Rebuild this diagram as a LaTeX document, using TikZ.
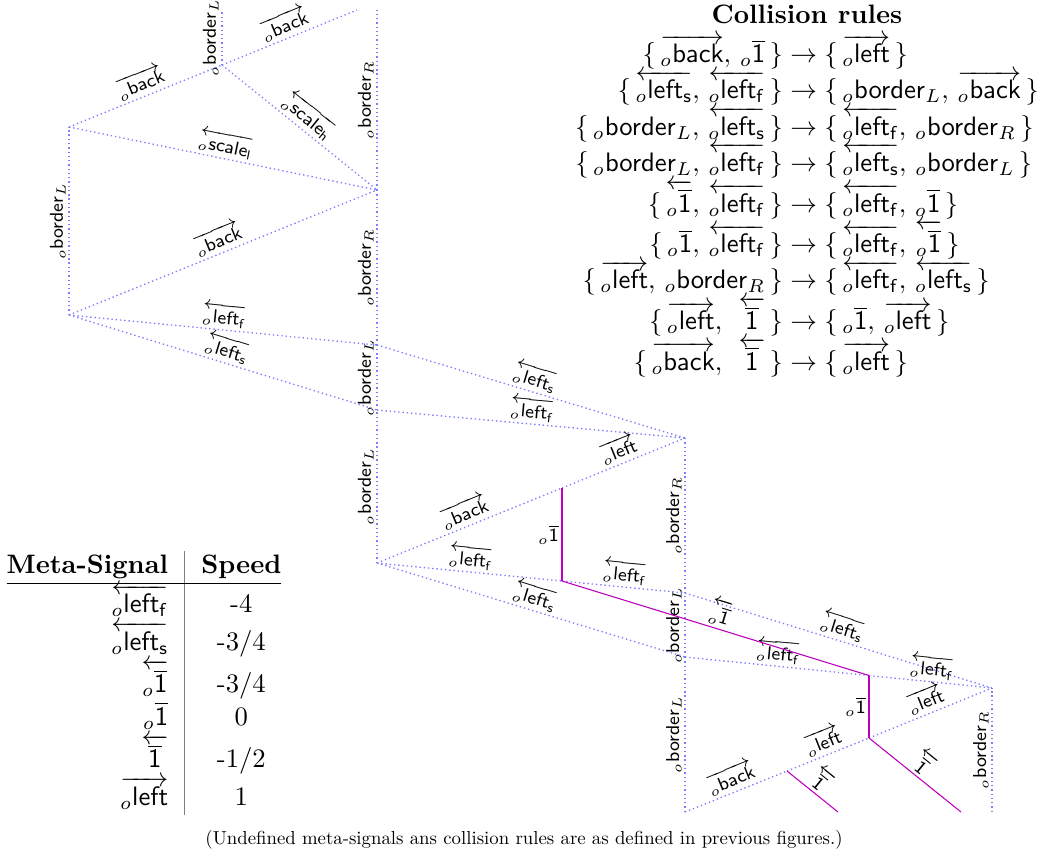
\documentclass[tikz,border=0pt]{standalone}
\usepackage{amsmath,amssymb}
\usepackage{array}
\usepackage{xcolor}
\usepackage{tikz}
\usetikzlibrary{positioning}
\definecolor{sigcolor}{RGB}{125,125,255}
\definecolor{onecolor}{RGB}{190,0,190}
\definecolor{rulecolor}{RGB}{128,128,128}

\newcommand{\so}[1]{{}_{o}\mathsf{#1}}
\newcommand{\Rs}[1]{\overrightarrow{\so{#1}}}
\newcommand{\Ls}[1]{\overleftarrow{\so{#1}}}
\newcommand{\bd}[1]{\so{border}_{#1}}
\newcommand{\one}{\overline{\mathsf{1}}}
\newcommand{\oone}{{}_{o}\one}
\newcommand{\Loone}{\overleftarrow{\oone}}
\newcommand{\Lone}{\overleftarrow{\one}}

\begin{document}
\begin{tikzpicture}[
  x=0.375pt, y=-0.375pt,
  meta/.style = {draw=sigcolor, line width=0.5pt, dash pattern={on 0.5pt off 1.1pt}},
  onesig/.style = {draw=onecolor, line width=0.4pt},
  lbl/.style  = {font=\fontsize{6.9}{8}\selectfont, sloped, above, midway, inner sep=1pt},
  vlbl/.style = {font=\fontsize{6.9}{8}\selectfont, left, midway, inner sep=1pt}
]
\useasboundingbox (0,0) rectangle (1046,858);

% collision points
\coordinate (tl-up)  at (69,127);
\coordinate (tl-low) at (69,315);
\coordinate (t-mid)  at (222,65);
\coordinate (t-back) at (357,10);
\coordinate (t-bord) at (222,10);
\coordinate (t-R)    at (377,10);
\coordinate (r-back) at (377,190);
\coordinate (r-bsw)  at (377,345);
\coordinate (r-bl)   at (377,410);
\coordinate (m-left) at (377,563);
\coordinate (m-stop) at (562,488);
\coordinate (m-one)  at (562,581);
\coordinate (m-R)    at (685,438);
\coordinate (m-bsw)  at (685,593);
\coordinate (m-bl)   at (685,657);
\coordinate (b-one)  at (869,675.5);
\coordinate (b-left) at (869,738);
\coordinate (b-back) at (787,771);
\coordinate (b-R)    at (992,688);
\coordinate (b-bord) at (685,812);
\coordinate (b-Rend) at (992,812);
\coordinate (b-one1) at (838,812);
\coordinate (b-one2) at (961,812);

% borders
\foreach \s/\e/\txt in {tl-low/tl-up/\bd{L}, t-mid/t-bord/\bd{L},
                        r-back/t-R/\bd{R}, r-bsw/r-back/\bd{R},
                        r-bl/r-bsw/\bd{L}, m-left/r-bl/\bd{L},
                        m-bsw/m-R/\bd{R}, m-bl/m-bsw/\bd{L},
                        b-bord/m-bl/\bd{L}, b-Rend/b-R/\bd{R}}{
  \draw[meta] (\s) -- node[lbl] {$\txt$} (\e);
}

% moving meta-signals
\foreach \s/\e/\txt in {tl-up/t-mid/\Rs{back}, t-mid/t-back/\Rs{back},
                        t-mid/r-back/\Ls{scale_h}, tl-up/r-back/\Ls{scale_l},
                        tl-low/r-back/\Rs{back},
                        tl-low/r-bsw/\Ls{left_f}, tl-low/r-bl/\Ls{left_s},
                        r-bsw/m-R/\Ls{left_s}, r-bl/m-R/\Ls{left_f},
                        m-left/m-stop/\Rs{back}, m-stop/m-R/\Rs{left},
                        m-left/m-one/\Ls{left_f}, m-one/m-bsw/\Ls{left_f},
                        m-left/m-bl/\Ls{left_s},
                        m-bsw/b-R/\Ls{left_s},
                        m-bl/b-one/\Ls{left_f}, b-one/b-R/\Ls{left_f},
                        b-bord/b-back/\Rs{back}, b-back/b-left/\Rs{left},
                        b-left/b-R/\Rs{left}}{
  \draw[meta] (\s) -- node[lbl] {$\txt$} (\e);
}

% the 1 signals
\draw[onesig] (m-one) -- node[vlbl] {$\oone$} (m-stop);
\draw[onesig] (b-left) -- node[vlbl] {$\oone$} (b-one);
\draw[onesig] (m-one) -- node[lbl] {$\Loone$} (b-one);
\draw[onesig] (b-back) -- node[lbl] {$\Lone$} (b-one1);
\draw[onesig] (b-left) -- node[lbl] {$\Lone$} (b-one2);

% collision rules
\node (rules-title) at (807,14) {\textbf{Collision rules}};
\node (rules) at (807,207) {$\begin{array}{r@{\;\rightarrow\;}l}
  \{\,\Rs{back},\,\oone\,\} & \{\,\Rs{left}\,\}\\[-0.6pt]
  \{\,\Ls{left_s},\,\Ls{left_f}\,\} & \{\,\bd{L},\,\Rs{back}\,\}\\[-0.6pt]
  \{\,\bd{L},\,\Ls{left_s}\,\} & \{\,\Ls{left_f},\,\bd{R}\,\}\\[-0.6pt]
  \{\,\bd{L},\,\Ls{left_f}\,\} & \{\,\Ls{left_s},\,\bd{L}\,\}\\[-0.6pt]
  \{\,\Loone,\,\Ls{left_f}\,\} & \{\,\Ls{left_f},\,\oone\,\}\\[-0.6pt]
  \{\,\oone,\,\Ls{left_f}\,\} & \{\,\Ls{left_f},\,\Loone\,\}\\[-0.6pt]
  \{\,\Rs{left},\,\bd{R}\,\} & \{\,\Ls{left_f},\,\Ls{left_s}\,\}\\[-0.6pt]
  \{\,\Rs{left},\,\;\Lone\,\} & \{\,\oone,\,\Rs{left}\,\}\\[-0.6pt]
  \{\,\Rs{back},\,\;\Lone\,\} & \{\,\Rs{left}\,\}
  \end{array}$};

% speeds
\node (speeds) at (144,683) {\begin{tabular}{@{}r!{\color{rulecolor}\vrule}c@{}}
  \textbf{Meta-Signal} & \textbf{Speed}\\ \hline
  $\Ls{left_f}$ & -4\\
  $\Ls{left_s}$ & -3/4\\
  $\Loone$ & -3/4\\
  $\oone$ & 0\\
  $\Lone$ & -1/2\\
  $\Rs{left}$ & 1
  \end{tabular}};

\node (note) at (524,840) {\scalebox{0.705}{(Undefined meta-signals ans collision rules are as defined in previous figures.)}};
\end{tikzpicture}
\end{document}
